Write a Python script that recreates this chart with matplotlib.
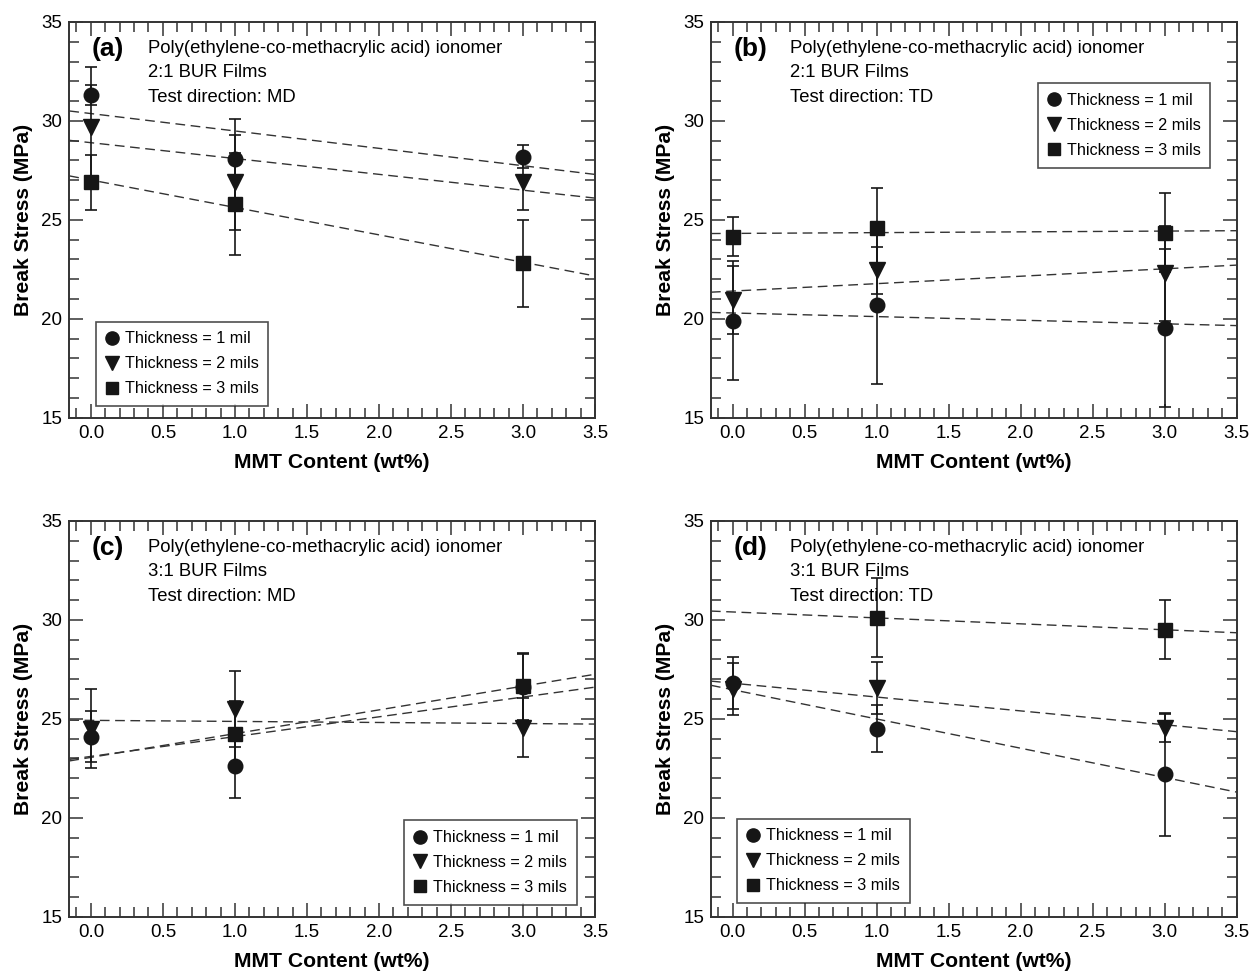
import numpy as np
import matplotlib.pyplot as plt
from matplotlib.lines import Line2D
from matplotlib.ticker import MultipleLocator

plt.rcParams['font.family'] = ['Liberation Sans', 'DejaVu Sans']

# MMT content (wt%)
mmt = [0.0, 1.0, 3.0]
mmt_sq = [1.0, 3.0]   # 3 mil films of the 3:1 BUR series only at 1 and 3 wt%

# (a) 2:1 BUR, MD
a_t1 = [31.3, 28.1, 28.2]
a_t1_err = [0.5, 2.0, 0.6]
a_t2 = [29.7, 26.9, 26.9]
a_t2_err = [3.0, 2.4, 1.4]
a_t3 = [26.9, 25.8, 22.8]
a_t3_err = [1.4, 2.6, 2.2]

# (b) 2:1 BUR, TD
b_t1 = [19.9, 20.7, 19.55]
b_t1_err = [3.0, 4.0, 4.0]
b_t2 = [20.95, 22.45, 22.3]
b_t2_err = [1.7, 1.2, 2.4]
b_t3 = [24.15, 24.6, 24.35]
b_t3_err = [1.0, 2.0, 2.0]

# (c) 3:1 BUR, MD
c_t1 = [24.1, 22.6, 26.6]
c_t1_err = [1.3, 1.6, 1.7]
c_t2 = [24.5, 25.5, 24.55]
c_t2_err = [2.0, 1.9, 1.5]
c_t3 = [24.25, 26.65]
c_t3_err = [1.65, 1.7]

# (d) 3:1 BUR, TD
d_t1 = [26.8, 24.5, 22.2]
d_t1_err = [1.3, 1.2, 3.1]
d_t2 = [26.5, 26.55, 24.55]
d_t2_err = [1.3, 1.3, 0.7]
d_t3 = [30.1, 29.5]
d_t3_err = [2.0, 1.5]

legend_labels = ['Thickness = 1 mil', 'Thickness = 2 mils', 'Thickness = 3 mils']
markers = ['o', 'v', 's']
msizes = [10.5, 11, 9.5]
dark = '#161616'

panels = [
    ('(a)', '2:1 BUR Films', 'Test direction: MD',
     [(mmt, a_t1, a_t1_err), (mmt, a_t2, a_t2_err), (mmt, a_t3, a_t3_err)],
     [0.0553, 0.5707, 0.4195, 0.4067], ('lower left', (0.05, 0.03))),
    ('(b)', '2:1 BUR Films', 'Test direction: TD',
     [(mmt, b_t1, b_t1_err), (mmt, b_t2, b_t2_err), (mmt, b_t3, b_t3_err)],
     [0.5674, 0.5707, 0.4195, 0.4067], ('upper right', (0.95, 0.845))),
    ('(c)', '3:1 BUR Films', 'Test direction: MD',
     [(mmt, c_t1, c_t1_err), (mmt, c_t2, c_t2_err), (mmt_sq, c_t3, c_t3_err)],
     [0.0553, 0.0579, 0.4195, 0.4067], ('lower right', (0.965, 0.03))),
    ('(d)', '3:1 BUR Films', 'Test direction: TD',
     [(mmt, d_t1, d_t1_err), (mmt, d_t2, d_t2_err), (mmt_sq, d_t3, d_t3_err)],
     [0.5674, 0.0579, 0.4195, 0.4067], ('lower left', (0.05, 0.035))),
]

fig = plt.figure(figsize=(12.53, 9.73), dpi=100)
xfit = np.array([-0.15, 3.5])

for tag, bur, direction, series, pos, (loc, anchor) in panels:
    ax = fig.add_axes(pos)
    for (x, y, e), m, ms in zip(series, markers, msizes):
        ax.errorbar(x, y, yerr=e, fmt=m, color=dark, ms=ms, elinewidth=1.2,
                    capsize=4, capthick=1.2, zorder=3)
        # linear fit through the points
        k, b = np.polyfit(x, y, 1)
        ax.plot(xfit, k * xfit + b, ls=(0, (7, 4)), color='#333333', lw=1.0, zorder=2)

    ax.set_xlim(-0.15, 3.5)
    ax.set_ylim(15, 35)
    ax.xaxis.set_major_locator(MultipleLocator(0.5))
    ax.xaxis.set_minor_locator(MultipleLocator(0.1))
    ax.yaxis.set_major_locator(MultipleLocator(5))
    ax.yaxis.set_minor_locator(MultipleLocator(1))
    ax.set_xticks([0, 0.5, 1, 1.5, 2, 2.5, 3, 3.5])
    ax.set_xticklabels(['0.0', '0.5', '1.0', '1.5', '2.0', '2.5', '3.0', '3.5'])
    ax.tick_params(which='both', direction='in', top=True, right=True,
                   color='#333333', width=1.1, labelsize=13.5)
    ax.tick_params(which='major', length=10, pad=5)
    ax.tick_params(which='minor', length=7)
    for s in ax.spines.values():
        s.set_linewidth(1.4)
        s.set_color('#333333')

    ax.set_xlabel('MMT Content (wt%)', fontsize=15.2, fontweight='bold', labelpad=8)
    ax.set_ylabel('Break Stress (MPa)', fontsize=15.2, fontweight='bold', labelpad=6)

    ax.text(0.043, 0.932, tag, transform=ax.transAxes, fontsize=19,
            fontweight='bold', va='center', ha='left')
    ax.text(0.15, 0.934, 'Poly(ethylene-co-methacrylic acid) ionomer',
            transform=ax.transAxes, fontsize=13.3, va='center')
    ax.text(0.15, 0.872, bur, transform=ax.transAxes, fontsize=13.3, va='center')
    ax.text(0.15, 0.81, direction, transform=ax.transAxes, fontsize=13.3, va='center')

    handles = [Line2D([], [], ls='none', marker=m, color=dark, ms=ms - 1)
               for m, ms in zip(markers, msizes)]
    leg = ax.legend(handles, legend_labels, loc=loc, bbox_to_anchor=anchor,
                    fontsize=11.6, frameon=True, fancybox=False, numpoints=1,
                    handlelength=0.8, handletextpad=0.4, borderpad=0.6,
                    labelspacing=0.62, borderaxespad=0)
    leg.get_frame().set_edgecolor('#222222')
    leg.get_frame().set_linewidth(1.2)

fig.savefig('out.png', dpi=100)
